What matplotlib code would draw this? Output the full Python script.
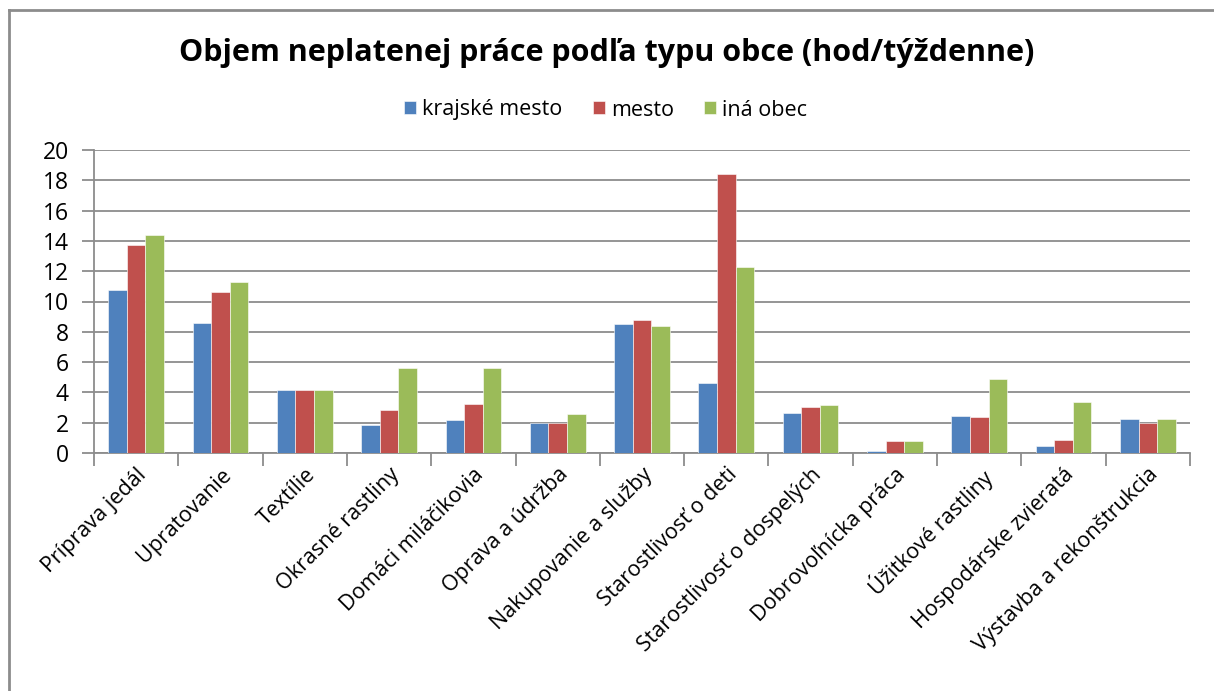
import numpy as np
import matplotlib.pyplot as plt
from matplotlib.lines import Line2D

categories = ["Príprava jedál", "Upratovanie", "Textílie", "Okrasné rastliny",
              "Domáci miláčikovia", "Oprava a údržba", "Nakupovanie a služby",
              "Starostlivosť o deti", "Starostlivosť o dospelých",
              "Dobrovoľnícka práca", "Úžitkové rastliny", "Hospodárske zvieratá",
              "Výstavba a rekonštrukcia"]
series_names = ["krajské mesto", "mesto", "iná obec"]
krajske_mesto = [10.76, 8.6, 4.14, 1.85, 2.18, 2.0, 8.54, 4.6, 2.66, 0.15, 2.44, 0.48, 2.27]
mesto = [13.75, 10.65, 4.14, 2.82, 3.23, 2.0, 8.78, 18.39, 3.01, 0.79, 2.35, 0.88, 1.98]
ina_obec = [14.39, 11.29, 4.14, 5.59, 5.59, 2.57, 8.36, 12.28, 3.15, 0.79, 4.86, 3.39, 2.27]
colors = ["#4F81BD", "#C0504D", "#9BBB59"]

plt.rcParams['font.family'] = ['Open Sans', 'DejaVu Sans']

fig = plt.figure(figsize=(12.14, 6.91), dpi=100)
ax = fig.add_axes([94 / 1214, 1 - 453 / 691, (1190 - 94) / 1214, (453 - 150) / 691])

x = np.arange(len(categories))
w = 0.22
for k, vals in enumerate([krajske_mesto, mesto, ina_obec]):
    ax.bar(x + (k - 1) * w, vals, width=w, color=colors[k], label=series_names[k],
           edgecolor='white', linewidth=0.4, zorder=3)

ax.set_xlim(-0.5, len(categories) - 0.5)
ax.set_ylim(0, 20)
ax.set_yticks(range(0, 21, 2))
ax.yaxis.grid(True, color='#8c8c8c', linewidth=1.3, zorder=0)
ax.set_axisbelow(True)

# category boundary ticks
ax.set_xticks(np.arange(-0.5, len(categories)), minor=False)
ax.set_xticklabels([])
ax.set_xticks(x, minor=True)
ax.set_xticklabels(categories, minor=True, rotation=45, ha='right',
                   rotation_mode='anchor', fontsize=15.5)
ax.tick_params(axis='x', which='major', length=9, color='#8c8c8c', width=1.3)
ax.tick_params(axis='x', which='minor', length=0, pad=8)
ax.tick_params(axis='y', length=9, color='#8c8c8c', width=1.3, labelsize=16.5, pad=9)

for s in ['top', 'right']:
    ax.spines[s].set_visible(False)
for s in ['left', 'bottom']:
    ax.spines[s].set_color('#8c8c8c')
    ax.spines[s].set_linewidth(1.3)

fig.text(0.5, 1 - 53 / 691, "Objem neplatenej práce podľa typu obce (hod/týždenne)",
         ha='center', va='center', fontsize=22, fontweight='bold')
fig.legend(loc='center', bbox_to_anchor=(0.499, 1 - 110 / 691), ncol=3, frameon=False,
           fontsize=15.5, handlelength=0.55, handleheight=0.55, handletextpad=0.3,
           columnspacing=1.4)

# chart frame
fig.add_artist(Line2D([9 / 1214, 9 / 1214], [0, 1 - 10 / 691], transform=fig.transFigure,
                      color='#8c8c8c', linewidth=2))
fig.add_artist(Line2D([9 / 1214, 1], [1 - 10 / 691, 1 - 10 / 691], transform=fig.transFigure,
                      color='#8c8c8c', linewidth=2))

fig.savefig("out.png", dpi=100)
